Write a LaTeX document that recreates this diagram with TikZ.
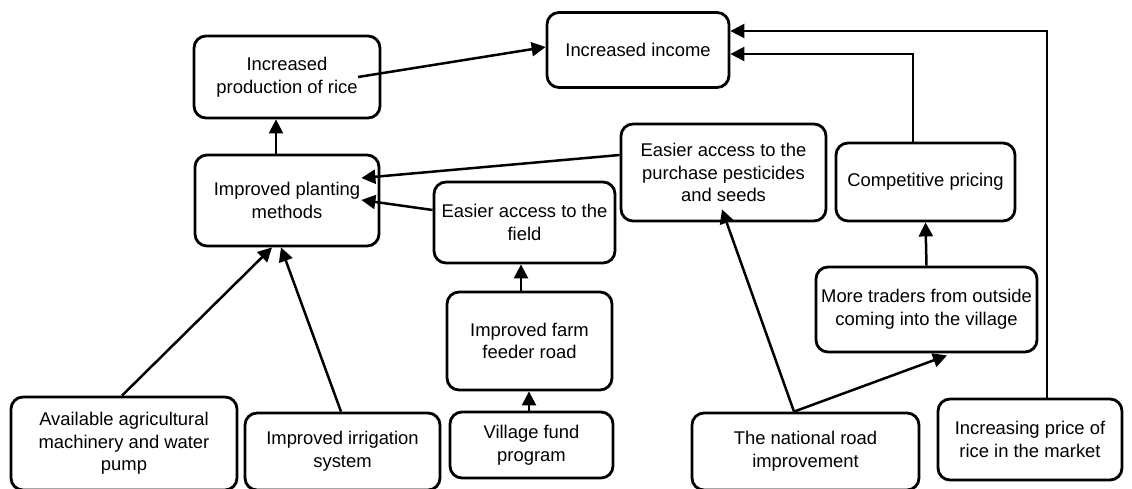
\documentclass[tikz,border=0pt]{standalone}
\usepackage{fontspec}
\setmainfont{Liberation Sans}
\usetikzlibrary{arrows.meta,calc}

\begin{document}
\begin{tikzpicture}[x=1pt,y=-1pt,
  box/.style 2 args={draw, line width=2.8pt, rounded corners=12pt,
    minimum width=#1, minimum height=#2, inner sep=0pt, align=center,
    font=\fontsize{18.4}{22.6}\selectfont},
  link/.style={line width=2.5pt, -{Triangle[length=14pt,width=14pt]}}]
  \useasboundingbox (0,0) rectangle (1132,488);

  % outcome boxes
  \node[box={182pt}{75pt}]  (inc)   at (638,50)     {Increased income};
  \node[box={186pt}{82pt}]  (prod)  at (287,77)     {Increased\\production of rice};
  \node[box={184pt}{91pt}]  (plant) at (287,200.5)  {Improved planting\\methods};
  \node[box={181pt}{81pt}]  (field) at (524.5,222.5){Easier access to the\\field};
  \node[box={205pt}{97pt}]  (pest)  at (723.5,172.5){Easier access to the\\purchase pesticides\\and seeds};
  \node[box={179pt}{78pt}]  (comp)  at (925.5,182)  {Competitive pricing};
  \node[box={221pt}{85pt}]  (trad)  at (926.5,309.5){More traders from outside\\coming into the village};
  \node[box={165pt}{98pt}]  (feed)  at (529.5,341)  {Improved farm\\feeder road};

  % driver boxes along the bottom
  \node[box={163pt}{66pt}]  (vill)  at (531.5,445)  {Village fund\\program};
  \node[box={227pt}{77pt}]  (nat)   at (805.5,451.5){The national road\\improvement};
  \node[box={184pt}{81pt}]  (price) at (1030,439.5) {Increasing price of\\rice in the market};
  \node[box={226pt}{93pt}]  (agri)  at (124,443.5)  {Available agricultural\\machinery and water\\pump};
  \node[box={195pt}{77pt}]  (irr)   at (342.5,451.5){Improved irrigation\\system};

  % causal links
  \draw[link] ($(prod.center)+(71,0)$) -- ($(inc.west)+(0,-3)$);
  \draw[link] ($(plant.north)+(-11,0)$) -- ($(prod.south)+(-11,0)$);
  \draw[link] ($(pest.west)+(0,-17.5)$) -- ($(plant.east)+(-19,-22.5)$);
  \draw[link] ($(field.west)+(0,-12.5)$) -- ($(plant.east)+(-19,-0.5)$);
  \draw[link] ($(feed.north)+(-8.5,0)$) -- ($(field.south)+(-3.5,0)$);
  \draw[link] ($(vill.north)+(-2.5,0)$) -- ($(feed.south)+(-0.5,0)$);
  \draw[link] ($(agri.north)+(-2,0)$) -- ($(plant.south)+(-15,0)$);
  \draw[link] ($(irr.north)+(-1.5,0)$) -- ($(plant.south)+(-6,0)$);
  \draw[link] ($(nat.north)+(-11.5,0)$) -- ($(pest.south)+(-1.5,-13)$);
  \draw[link] ($(nat.north)+(-11.5,0)$) -- ($(trad.south)+(20.5,2)$);
  \draw[link] (trad.north) -- (comp.south);
  \draw[link] ($(comp.north)+(-12.5,0)$) |- ($(inc.east)+(0,4)$);
  \draw[link] ($(price.north)+(17,0)$) |- ($(inc.east)+(0,-19)$);
\end{tikzpicture}
\end{document}
